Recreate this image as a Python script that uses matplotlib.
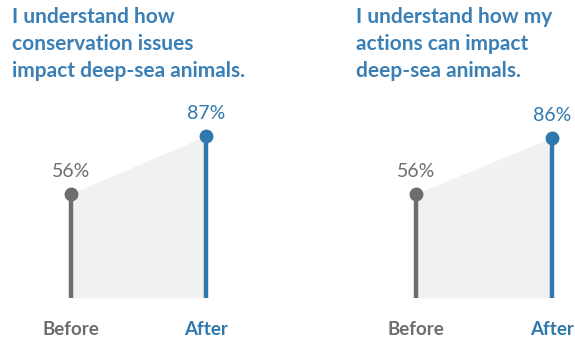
import matplotlib.pyplot as plt

plt.rcParams['font.family'] = ['Lato', 'DejaVu Sans']

# data
titles = ['I understand how\nconservation issues\nimpact deep-sea animals.',
          'I understand how my\nactions can impact\ndeep-sea animals.']
stages = ['Before', 'After']
before = [56, 56]
after = [87, 86]

gray = '#6d6d6d'
blue = '#2f78ae'
fill = '#f1f1f1'

fig = plt.figure(figsize=(5.75, 3.39), dpi=100)

# axes positions (figure fractions)
boxes = [[71/575, 41/339, 135/575, 186.5/339],
         [416/575, 41/339, 136/575, 186.5/339]]
title_x = [12/575, 356/575]

for i in range(2):
    ax = fig.add_axes(boxes[i])
    vals = [before[i], after[i]]
    xs = [0, 1]
    ax.fill_between(xs, [0, 0], vals, color=fill, lw=0, zorder=1)
    cols = [gray, blue]
    for x, v, c, s in zip(xs, vals, cols, stages):
        ax.plot([x, x], [0, v], color=c, lw=3.2, solid_capstyle='butt', zorder=2, clip_on=False)
        ax.plot(x, v, 'o', color=c, ms=9, zorder=3, clip_on=False)
        ax.annotate(f'{v}%', (x, v), xytext=(0, 16), textcoords='offset points',
                    ha='center', va='center', fontsize=14, color=c)
        ax.text(x, -17, s, ha='center', va='center', fontsize=13.5,
                fontweight='bold', color=c)
    ax.set_xlim(0, 1)
    ax.set_ylim(0, 100)
    ax.axis('off')
    fig.text(title_x[i], 1 - 7/339, titles[i], ha='left', va='top', fontsize=15,
             fontweight='bold', color='#3a7fb5', linespacing=1.45)

fig.savefig('out.png', dpi=100)
